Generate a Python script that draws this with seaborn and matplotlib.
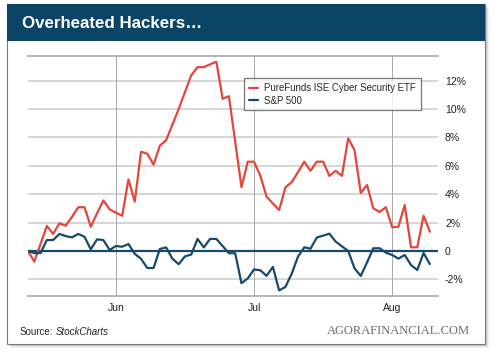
import pandas as pd
import seaborn as sns
import matplotlib.pyplot as plt
from matplotlib.patches import Rectangle
from matplotlib.transforms import offset_copy

# trading days, 11 May - 11 Aug 2015 (Memorial Day and 3 July closed)
dates = pd.bdate_range('2015-05-11', '2015-08-11', freq='C',
                       holidays=['2015-05-25', '2015-07-03'])
month_labels = ['Jun', 'Jul', 'Aug']

# cumulative % change
hack = [0, -0.75, 0.5, 1.76, 1.2, 1.95, 1.78, 2.4, 3.08, 3.08,
        1.71, 2.65, 3.56, 2.93, 2.7, 2.48, 5.05, 3.47, 6.99, 6.85,
        6.08, 7.42, 7.8, 8.9, 10.0, 11.2, 12.38, 12.95, 12.95, 13.15,
        13.33, 10.72, 10.9, 7.7, 4.5, 6.29, 6.29, 5.3, 3.82, 3.35,
        2.89, 4.48, 4.85, 5.55, 6.29, 5.65, 6.29, 6.29, 5.29, 5.65,
        5.29, 7.93, 7.11, 4.08, 4.65, 3.0, 2.75, 3.08, 1.67, 1.71,
        3.24, 0.26, 0.26, 2.48, 1.36]
spx = [0, -0.15, -0.15, 0.77, 0.77, 1.2, 1.05, 0.96, 1.2, 1.0,
       0.12, 0.82, 0.77, 0.07, 0.35, 0.3, 0.49, -0.2, -0.55, -1.2,
       -1.2, 0.14, 0.25, -0.54, -0.93, -0.38, -0.25, 0.85, 0.25, 0.85,
       0.85, 0.35, -0.16, -0.16, -2.27, -1.93, -1.3, -1.36, -1.75, -1.12,
       -2.78, -2.53, -1.6, -0.4, 0.26, 0.16, 0.95, 1.08, 1.22, 0.66,
       0.33, 0.0, -1.22, -1.76, -0.8, 0.19, 0.19, -0.12, -0.28, -0.54,
       -0.28, -0.99, -1.34, -0.14, -0.92]
series_names = ['PureFunds ISE Cyber Security ETF', 'S&P 500']
yticks = [-2, 0, 2, 4, 6, 8, 10, 12]

RED = '#e4463b'
BLUE = '#17496b'
HEAD = '#0c4466'

df = pd.DataFrame({'day': range(len(dates)), series_names[0]: hack, series_names[1]: spx})
long = df.melt(id_vars='day', var_name='series', value_name='pct')

# first trading day of each month after the start
month_pos = [i for i in range(1, len(dates)) if dates[i].month != dates[i - 1].month]

sns.set_style('white')
plt.rcParams['font.family'] = ['Liberation Sans', 'DejaVu Sans']

fig = plt.figure(figsize=(5, 3.55), dpi=100)
fig.patch.set_facecolor('white')

# card with soft shadow
for k, a in enumerate([0.05, 0.07, 0.09, 0.12]):
    off = (4 - k) / 500
    fig.patches.append(Rectangle((7 / 500 + off, 1 - 344 / 355 - off * 1.4), 478 / 500, 340 / 355,
                                 transform=fig.transFigure, facecolor='black', alpha=a,
                                 edgecolor='none', zorder=0))
fig.patches.append(Rectangle((7 / 500, 1 - 344 / 355), 478 / 500, 340 / 355,
                             transform=fig.transFigure, facecolor='white',
                             edgecolor='#7a7a7a', lw=0.8, zorder=1))
fig.patches.append(Rectangle((7 / 500, 1 - 41 / 355), 478 / 500, 37 / 355,
                             transform=fig.transFigure, facecolor=HEAD,
                             edgecolor='none', zorder=2))
fig.text(22 / 500, 1 - 23 / 355, 'Overheated Hackers…', color='white',
         fontsize=12.2, fontweight='bold', va='center', ha='left', zorder=3)

ax = fig.add_axes([28 / 500, 1 - 295.7 / 355, 410 / 500, 240.2 / 355])
ax.set_facecolor('none')
ax.set_zorder(5)

sns.lineplot(data=long, x='day', y='pct', hue='series', palette=[RED, BLUE],
             linewidth=1.6, ax=ax, zorder=4)
ax.axhline(0, color=BLUE, lw=1.6, zorder=3)

ax.set_xlim(0, 65.3)
ax.set_ylim(-3.15, 13.77)
ax.set_yticks(yticks)
ax.set_yticklabels([f'{v}%' if v != 0 else '0' for v in yticks])
ax.yaxis.tick_right()
ax.set_xticks(month_pos)
ax.set_xticklabels(month_labels)
ax.tick_params(axis='both', length=0, labelsize=7.5, colors='#222222')
ax.tick_params(axis='y', pad=5)
ax.tick_params(axis='x', pad=5)
ax.set_xlabel('')
ax.set_ylabel('')

for v in yticks:
    if v != 0:
        ax.axhline(v, color='#d2d2d2', lw=1.3, zorder=1)
for p in month_pos:
    ax.axvline(p, color='#a8a8a8', lw=0.7, zorder=1)

for s in ['left', 'right']:
    ax.spines[s].set_visible(False)
for s in ['top', 'bottom']:
    ax.spines[s].set_color('#a8a8a8')
    ax.spines[s].set_linewidth(1.2)

leg = ax.legend(loc='upper right', bbox_to_anchor=(0.958, 0.905), fontsize=6.9,
                frameon=True, fancybox=False, handlelength=1.0, handletextpad=0.6,
                borderpad=0.5, labelspacing=0.25, borderaxespad=0)
leg.get_frame().set_edgecolor('#555555')
leg.get_frame().set_linewidth(0.9)
for line in leg.get_lines():
    line.set_linewidth(1.6)

src = fig.text(20 / 500, 1 - 332 / 355, 'Source:', fontsize=7, color='#222222',
               va='center', zorder=3)
fig.canvas.draw()
w = src.get_window_extent().width
fig.text(20 / 500, 1 - 332 / 355, 'StockCharts', fontsize=7, style='italic',
         color='#222222', va='center', zorder=3,
         transform=offset_copy(fig.transFigure, fig=fig, x=w + 2.5, y=0, units='dots'))
fig.text(470 / 500, 1 - 331 / 355, 'AGORAFINANCIAL.COM', fontsize=9.0,
         family='Liberation Serif', color='#6a6a6a', ha='right', va='center', zorder=3)

fig.savefig('out.png', dpi=100)
